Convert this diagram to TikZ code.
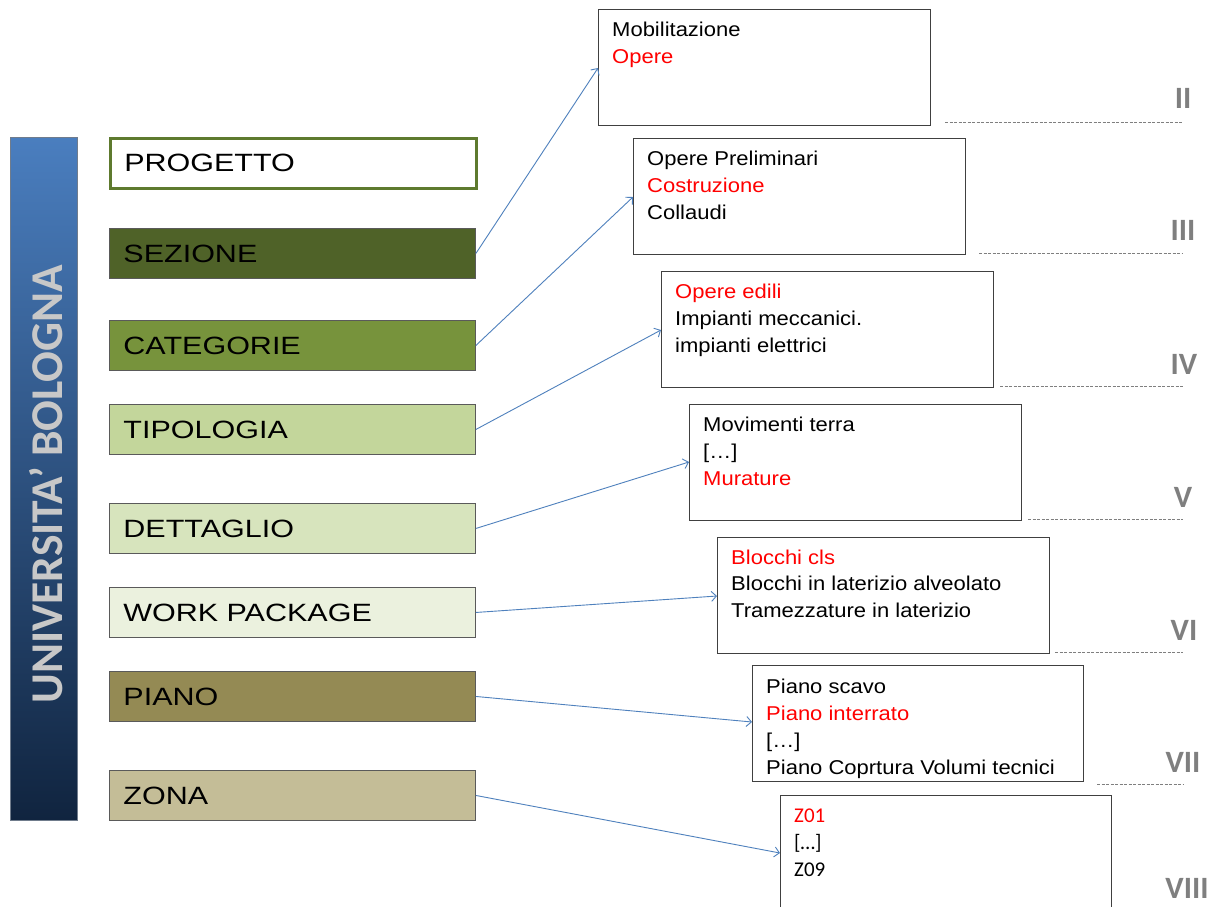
\documentclass[tikz,border=0pt]{standalone}
\usepackage{fontspec}
\setmainfont{Liberation Sans}
\newfontfamily\lfont[FakeStretch=1.22]{Liberation Sans}
\newfontfamily\rfont[FakeStretch=1.1]{Liberation Sans}
\newfontfamily\calib{Carlito}
\usetikzlibrary{arrows.meta}
\definecolor{barTop}{HTML}{4A7EBF}
\definecolor{barBot}{HTML}{10243F}
\definecolor{barText}{HTML}{C8C8C8}
\definecolor{cProg}{HTML}{5E7A2E}
\definecolor{cSez}{HTML}{4F6228}
\definecolor{cCat}{HTML}{77933C}
\definecolor{cTip}{HTML}{C3D69B}
\definecolor{cDet}{HTML}{D7E4BD}
\definecolor{cWP}{HTML}{EBF1DE}
\definecolor{cPiano}{HTML}{948A54}
\definecolor{cZona}{HTML}{C4BD97}
\definecolor{lline}{HTML}{5A5A5A}
\definecolor{rline}{HTML}{404040}
\definecolor{arrowc}{HTML}{4F81BD}
\definecolor{numc}{HTML}{7F7F7F}
\definecolor{redt}{HTML}{FF0000}
\begin{document}
\begin{tikzpicture}[x=1pt,y=-1pt,
  lbox/.style={draw=lline, line width=0.9pt, minimum height=50pt, text width=338pt,
    inner xsep=14pt, inner ysep=0pt, align=left, anchor=north west,
    font=\lfont\fontsize{25}{29}\selectfont},
  rbox/.style={draw=rline, line width=1pt, minimum width=332pt, minimum height=116pt,
    inner sep=0pt, anchor=north west},
  rt/.style={anchor=base west, inner sep=0pt, font=\rfont\fontsize{20}{24}\selectfont},
  rtz/.style={anchor=base west, inner sep=0pt, font=\calib\fontsize{21}{24}\selectfont},
  red/.style={text=redt},
  conn/.style={draw=arrowc, line width=0.9pt, -{Straight Barb[length=5pt,width=10pt]}},
  lvl/.style={draw=numc, line width=1pt, dash pattern=on 3pt off 1.5pt},
  num/.style={text=numc, inner sep=0pt, font=\calib\bfseries\fontsize{31}{31}\selectfont}
]
\useasboundingbox (0,0) rectangle (1215,906);
\fill[white] (0,0) rectangle (1215,906);

% vertical bar
\node[anchor=north west, minimum width=67pt, minimum height=683pt, inner sep=0pt,
  top color=barTop, bottom color=barBot, draw=barBot!60, line width=0.5pt] (bar) at (10,137) {};
\node[rotate=90, text=barText, inner sep=0pt, font=\calib\bfseries\fontsize{45.5}{46}\selectfont]
  (bartext) at (46,484) {UNIVERSITA’ BOLOGNA};

% left boxes
\node[lbox, fill=white, draw=cProg, line width=2.5pt] (prog) at (109,137) {PROGETTO};
\node[lbox, fill=cSez] (sez) at (109,228) {SEZIONE};
\node[lbox, fill=cCat] (cat) at (109,320) {CATEGORIE};
\node[lbox, fill=cTip] (tip) at (109,404) {TIPOLOGIA};
\node[lbox, fill=cDet] (det) at (109,503) {DETTAGLIO};
\node[lbox, fill=cWP] (wp) at (109,587) {WORK PACKAGE};
\node[lbox, fill=cPiano] (piano) at (109,671) {PIANO};
\node[lbox, fill=cZona] (zona) at (109,770) {ZONA};

% right boxes
\node[rbox] (b1) at (598,9) {};
\node[rt] (b1a) at (612,36) {Mobilitazione};
\node[rt, red] (b1b) at (612,63) {Opere};

\node[rbox] (b2) at (633,138) {};
\node[rt] (b2a) at (647,165) {Opere Preliminari};
\node[rt, red] (b2b) at (647,192) {Costruzione};
\node[rt] (b2c) at (647,219) {Collaudi};

\node[rbox] (b3) at (661,271) {};
\node[rt, red] (b3a) at (675,298) {Opere edili};
\node[rt] (b3b) at (675,325) {Impianti meccanici.};
\node[rt] (b3c) at (675,352) {impianti elettrici};

\node[rbox] (b4) at (689,404) {};
\node[rt] (b4a) at (703,431) {Movimenti terra};
\node[rt] (b4b) at (703,458) {[…]};
\node[rt, red] (b4c) at (703,485) {Murature};

\node[rbox] (b5) at (717,537) {};
\node[rt, red] (b5a) at (731,564) {Blocchi cls};
\node[rt] (b5b) at (731,590) {Blocchi in laterizio alveolato};
\node[rt] (b5c) at (731,617) {Tramezzature in laterizio};

\node[rbox, minimum width=331pt] (b6) at (752,665) {};
\node[rt] (b6a) at (766,693) {Piano scavo};
\node[rt, red] (b6b) at (766,720) {Piano interrato};
\node[rt] (b6c) at (766,747) {[…]};
\node[rt] (b6d) at (766,774) {Piano Coprtura Volumi tecnici};

\node[rbox, minimum width=331pt, minimum height=140pt] (b7) at (780,795) {};
\node[rtz, red] (b7a) at (794,822) {Z01};
\node[rtz] (b7b) at (794,849) {[…]};
\node[rtz] (b7c) at (794,876) {Z09};

% arrow targets
\coordinate (t1) at ([yshift=-59pt]b1.north west);
\coordinate (t2) at ([yshift=-59pt]b2.north west);
\coordinate (t3) at ([yshift=-59pt]b3.north west);
\coordinate (t4) at ([yshift=-58pt]b4.north west);
\coordinate (t5) at ([yshift=-59pt]b5.north west);
\coordinate (t6) at ([yshift=-57pt]b6.north west);
\coordinate (t7) at ([yshift=-58pt]b7.north west);

\draw[conn] (sez.east) -- (t1);
\draw[conn] (cat.east) -- (t2);
\draw[conn] (tip.east) -- (t3);
\draw[conn] (det.east) -- (t4);
\draw[conn] (wp.east) -- (t5);
\draw[conn] (piano.east) -- (t6);
\draw[conn] (zona.east) -- (t7);

% level lines
\coordinate (l2a) at (945,122);  \coordinate (l2b) at (1183,122);
\coordinate (l3a) at (979,253);  \coordinate (l3b) at (1183,253);
\coordinate (l4a) at (1000,386); \coordinate (l4b) at (1183,386);
\coordinate (l5a) at (1028,519); \coordinate (l5b) at (1183,519);
\coordinate (l6a) at (1055,652); \coordinate (l6b) at (1183,652);
\coordinate (l7a) at (1097,784); \coordinate (l7b) at (1183,784);
\draw[lvl] (l2a) -- (l2b);
\draw[lvl] (l3a) -- (l3b);
\draw[lvl] (l4a) -- (l4b);
\draw[lvl] (l5a) -- (l5b);
\draw[lvl] (l6a) -- (l6b);
\draw[lvl] (l7a) -- (l7b);

% level numbers
\node[num] (n2) at (1183,98) {II};
\node[num] (n3) at (1183,230) {III};
\node[num] (n4) at (1184,364) {IV};
\node[num] (n5) at (1183,497) {V};
\node[num] (n6) at (1184,630) {VI};
\node[num] (n7) at (1183,762) {VII};
\node[num] (n8) at (1187,888) {VIII};
\end{tikzpicture}
\end{document}
